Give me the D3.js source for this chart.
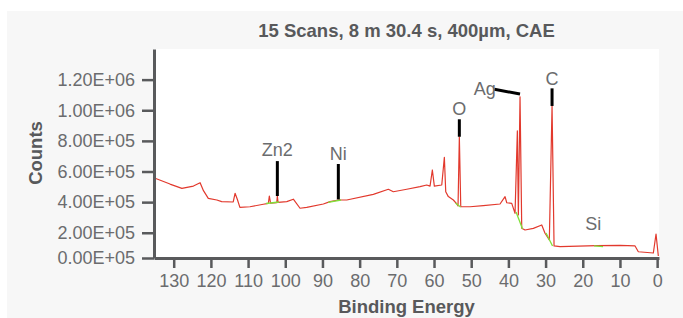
<!DOCTYPE html>
<html><head><meta charset="utf-8">
<script src="https://cdn.jsdelivr.net/npm/d3@7"></script>
<style>
html,body{margin:0;padding:0;background:#fff;}
svg{display:block;font-family:"Liberation Sans",Arial,Helvetica,sans-serif;}
</style></head>
<body>
<svg id="chart" width="683" height="318"></svg>
<script>
// ---- data ----
const title = "15 Scans, 8 m 30.4 s, 400µm, CAE";
const xLabel = "Binding Energy";
const yLabel = "Counts";
const xTickValues = [130,120,110,100,90,80,70,60,50,40,30,20,10,0];
const yTickValues = [35200,200000,400000,600000,800000,1000000,1200000];
const yTickLabels = ["0.00E+05","2.00E+05","4.00E+05","6.00E+05","8.00E+05","1.00E+06","1.20E+06"];
// spectrum: binding energy (eV)
const energy = [135.0,131.0,127.8,124.7,122.9,122.0,120.7,118.4,117.1,114.0,113.5,112.9,112.2,109.5,105.9,104.55,104.28,103.96,102.29,102.13,101.94,99.6,97.83,96.03,94.23,89.76,87.96,85.73,83.47,76.32,72.28,70.94,67.33,63.76,61.96,61.07,60.45,59.91,57.92,57.22,56.85,56.15,54.8,53.89,53.54,53.19,52.81,50.31,46.74,42.25,40.9,40.44,39.1,38.21,37.59,37.32,36.87,36.41,35.52,33.29,31.03,30.15,28.99,28.26,27.72,26.11,16.24,9.98,5.94,5.06,1.02,0.3,-0.32];
// spectrum: counts
const counts = [556000,518000,490000,505000,527000,475000,425000,414000,403000,401000,458000,419000,366000,370000,386000,392000,440000,394000,396000,440000,398000,403000,419000,360000,366000,388000,403000,414000,414000,451000,484000,468000,484000,501000,512000,505000,610000,505000,512000,693000,468000,436000,414000,388000,375000,827000,370000,370000,377000,388000,436000,396000,392000,327000,866000,316000,1088000,229000,218000,229000,251000,197000,153000,1028000,114000,109000,116000,117000,114000,76000,68000,192000,48000];
// fitted backgrounds under peaks: [startEnergy, startCount, endEnergy, endCount]
const backgrounds = [
  [105.17,391000,101.67,401000],
  [88.49,398000,85.0,414000],
  [54.21,394000,52.87,368000],
  [37.94,336000,36.19,225000],
  [29.88,198000,28.13,114000],
  [16.97,114000,14.55,110000]
];
// peak labels
const peakNames = ["Zn2","Ni","O","Ag","C","Si"];
const peakTextEnergy = [102.13,85.73,53.19,46.33,28.26,17.16];
const peakTextCount = [701000,675000,969000,1100000,1165000,218000];
// marker lines: [e1, c1, e2, c2] (null = none)
const peakMarkers = [
  [102.13,440000,102.13,668000],
  [85.73,418000,85.73,649000],
  [53.19,827000,53.19,941000],
  [43.76,1137000,36.87,1106000],
  [28.26,1028000,28.26,1143000],
  null
];

// ---- layout ----
const W = 683, H = 318;
const m = {left:154, right:659, top:49, bottom:258};
const axisColor = "#595a5c", textColor = "#58595b", tickColor = "#6b6c6e";

const svg = d3.select("#chart");
svg.append("rect").attr("x",7).attr("y",11).attr("width",W-7).attr("height",H-11).attr("fill","#f7f7f7");
svg.append("rect").attr("x",m.left).attr("y",m.top).attr("width",m.right-m.left).attr("height",m.bottom-m.top).attr("fill","#fff");

const x = d3.scaleLinear().domain([135.3,-0.5]).range([m.left,m.right]);
const y = d3.scaleLinear().domain([35200,1400000]).range([m.bottom,m.top]);

const data = energy.map((e,i)=>({e, c:counts[i]}));
const line = d3.line().x(d=>x(d.e)).y(d=>y(d.c));
svg.append("path").datum(data).attr("d",line).attr("fill","none")
  .attr("stroke","#e2392d").attr("stroke-width",1.2).attr("stroke-linejoin","round");

svg.selectAll("line.bg").data(backgrounds).join("line").attr("class","bg")
  .attr("x1",d=>x(d[0])).attr("y1",d=>y(d[1])).attr("x2",d=>x(d[2])).attr("y2",d=>y(d[3]))
  .attr("stroke","#7fe03a").attr("stroke-width",1.3);

svg.selectAll("line.mk").data(peakMarkers.filter(d=>d)).join("line").attr("class","mk")
  .attr("x1",d=>x(d[0])).attr("y1",d=>y(d[1])).attr("x2",d=>x(d[2])).attr("y2",d=>y(d[3]))
  .attr("stroke","#000").attr("stroke-width",3);

svg.selectAll("text.pk").data(peakNames).join("text").attr("class","pk")
  .attr("x",(d,i)=>x(peakTextEnergy[i])).attr("y",(d,i)=>y(peakTextCount[i]))
  .attr("text-anchor","middle").attr("font-size",18).attr("fill",tickColor).text(d=>d);

// axes
const xAxis = svg.append("g").attr("transform",`translate(0,${m.bottom})`)
  .call(d3.axisBottom(x).tickValues(xTickValues).tickSize(10).tickSizeOuter(0).tickPadding(6).tickFormat(d3.format("d")));
const yAxis = svg.append("g").attr("transform",`translate(${m.left},0)`)
  .call(d3.axisLeft(y).tickValues(yTickValues).tickSize(12).tickSizeOuter(0).tickPadding(7)
    .tickFormat((d,i)=>yTickLabels[i]));
[xAxis,yAxis].forEach(g=>{
  g.select(".domain").attr("stroke",axisColor).attr("stroke-width",3);
  g.selectAll(".tick line").attr("stroke",axisColor).attr("stroke-width",2.5);
  g.selectAll(".tick text").attr("fill",tickColor).attr("font-size",18)
    .attr("font-family","'Liberation Sans',Arial,Helvetica,sans-serif");
});

svg.append("text").attr("x",(m.left+m.right)/2).attr("y",37).attr("text-anchor","middle")
  .attr("font-size",18.5).attr("font-weight","bold").attr("fill",textColor).text(title);
svg.append("text").attr("x",(m.left+m.right)/2).attr("y",313).attr("text-anchor","middle")
  .attr("font-size",18.5).attr("font-weight","bold").attr("fill",textColor).text(xLabel);
svg.append("text").attr("transform",`translate(42,153) rotate(-90)`).attr("text-anchor","middle")
  .attr("font-size",18.5).attr("font-weight","bold").attr("fill",textColor).text(yLabel);
</script>
</body></html>
